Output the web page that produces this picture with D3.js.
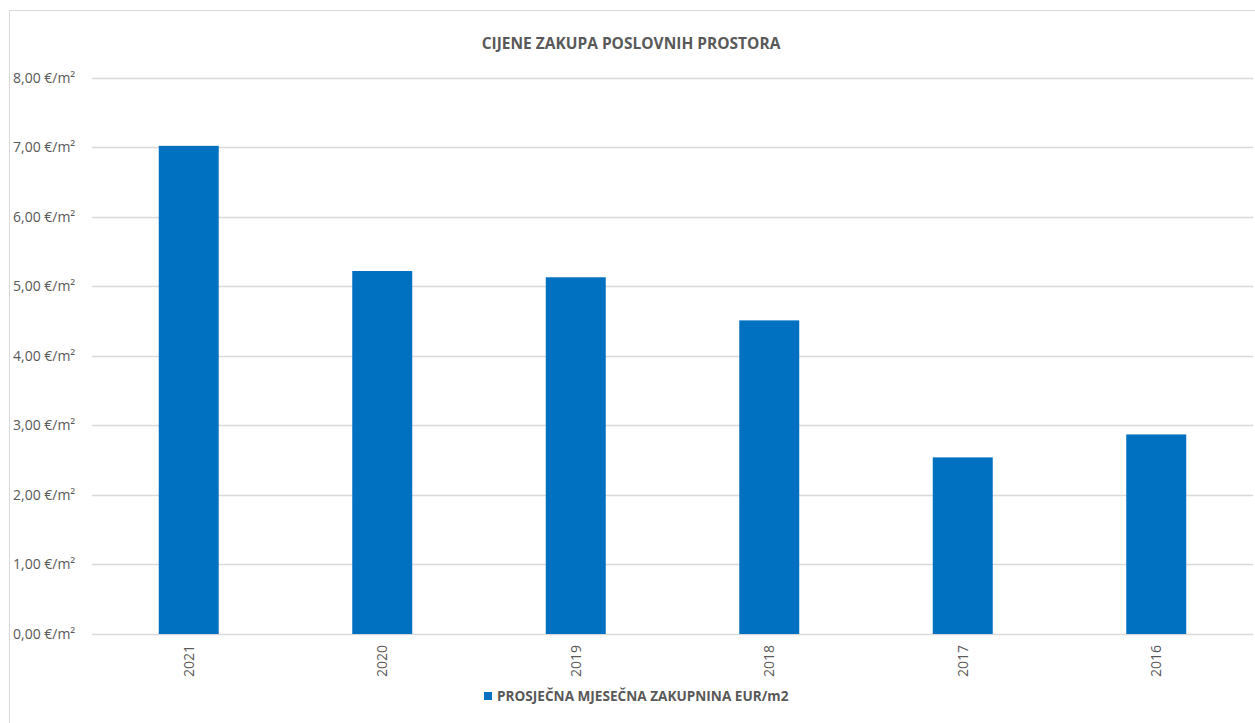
<!DOCTYPE html>
<html>
<head>
<meta charset="utf-8">
<script src="https://cdn.jsdelivr.net/npm/d3@7"></script>
<style>
  html, body { margin: 0; padding: 0; background: #fff; }
  svg { display: block; }
  svg text { font-family: "Open Sans", "Noto Sans", sans-serif; }
</style>
</head>
<body>
<svg id="chart" width="1255" height="723"></svg>
<script>
const title = "CIJENE ZAKUPA POSLOVNIH PROSTORA";
const seriesName = "PROSJEČNA MJESEČNA ZAKUPNINA EUR/m2";
const years = ["2021", "2020", "2019", "2018", "2017", "2016"];
const rents = [7.02, 5.22, 5.13, 4.51, 2.54, 2.87];
const yTicks = [0, 1, 2, 3, 4, 5, 6, 7, 8];

const svg = d3.select("#chart");
const W = 1255, H = 723;
const m = { left: 92, right: 2, top: 77.7, bottom: 89 };
const color = "#0070C0";
const textColor = "#595959";

// chart border
svg.append("rect")
  .attr("x", 9.5).attr("y", 10.5)
  .attr("width", W + 20).attr("height", H + 20)
  .attr("fill", "none").attr("stroke", "#d9d9d9").attr("stroke-width", 1);

const x = d3.scaleBand().domain(years).range([m.left, W - m.right]).paddingInner(0.69).paddingOuter(0.345);
const y = d3.scaleLinear().domain([0, 8]).range([634, m.top]);

// gridlines
svg.append("g")
  .selectAll("line").data(yTicks).join("line")
  .attr("x1", m.left).attr("x2", W - m.right)
  .attr("y1", d => Math.round(y(d)) + 0.5).attr("y2", d => Math.round(y(d)) + 0.5)
  .attr("stroke", "#d9d9d9").attr("stroke-width", 1.3);

// y axis labels
const fmt = d => d.toFixed(2).replace(".", ",") + " €/m²";
const yAxis = d3.axisLeft(y).tickValues(yTicks).tickFormat(fmt).tickSize(0).tickPadding(0);
const yg = svg.append("g").attr("transform", "translate(77,0)").call(yAxis);
yg.attr("font-family", null).attr("font-size", null);
yg.select(".domain").remove();
yg.selectAll("text")
  .attr("x", -64).attr("text-anchor", "start")
  .attr("fill", textColor).style("font-size", "14px");

// bars
svg.append("g").selectAll("rect").data(years).join("rect")
  .attr("x", d => x(d))
  .attr("width", x.bandwidth())
  .attr("y", (d, i) => y(rents[i]))
  .attr("height", (d, i) => y(0) - y(rents[i]))
  .attr("fill", color);

// x axis labels
const xAxis = d3.axisBottom(x).tickSize(0).tickPadding(0);
const xg = svg.append("g").attr("transform", "translate(0,645)").call(xAxis);
xg.attr("font-family", null).attr("font-size", null);
xg.select(".domain").remove();
xg.selectAll("text")
  .attr("transform", "rotate(-90)")
  .attr("x", 0).attr("y", 0).attr("dy", "0.35em")
  .attr("text-anchor", "end")
  .attr("fill", textColor).style("font-size", "14px");

// title
svg.append("text")
  .attr("x", 631).attr("y", 49)
  .attr("text-anchor", "middle")
  .attr("fill", textColor)
  .style("font-size", "15.5px").style("font-weight", "bold")
  .text(title);

// legend
const lg = svg.append("g").attr("transform", "translate(484,692)");
lg.append("rect").attr("width", 8).attr("height", 8).attr("fill", color);
lg.append("text").attr("x", 13).attr("y", 8.5)
  .attr("fill", textColor)
  .style("font-size", "13.6px").style("font-weight", "bold")
  .text(seriesName);
</script>
</body>
</html>
